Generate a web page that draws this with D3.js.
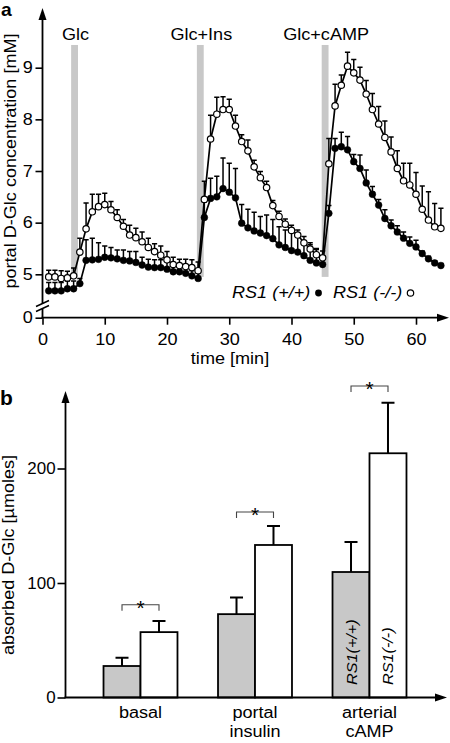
<!DOCTYPE html>
<html><head><meta charset="utf-8">
<script src="https://cdn.jsdelivr.net/npm/d3@7"></script>
<style>body{margin:0;background:#fff}svg{display:block}</style>
</head><body><svg id="c" width="450" height="743"></svg>
<script>
// ---------- data panel a ----------
const times = d3.range(1, 65);
const wtMean = [4.68,4.68,4.68,4.72,4.72,4.82,5.27,5.28,5.29,5.33,5.32,5.30,5.27,5.26,5.23,5.18,5.14,5.13,5.13,5.10,5.05,5.05,5.02,4.97,4.92,
  6.10,6.47,6.50,6.66,6.59,6.48,5.99,5.90,5.84,5.80,5.75,5.69,5.57,5.52,5.46,5.43,5.36,5.27,5.22,5.19,
  6.18,7.44,7.47,7.41,7.18,7.05,6.77,6.55,6.34,6.08,5.94,5.82,5.70,5.60,5.53,5.40,5.30,5.22,5.17];
const wtErr = [0.16,0.16,0.16,0.15,0.15,0.10,0.40,0.42,0.32,0.22,0.20,0.17,0.20,0.18,0.21,0.15,0.15,0.15,0.15,0.15,0.15,0.14,0.14,0.10,0.10,
  0.30,0.39,0.40,0.59,0.56,0.57,0.36,0.36,0.36,0.32,0.40,0.37,0.35,0.34,0.36,0.30,0.26,0.30,0.26,0.10,
  0.15,0.19,0.28,0.26,0.14,0.26,0.25,0.15,0.11,0.17,0.11,0.12,0.12,0.12,0.13,0.05,0.05,0.04,0.04];
const koMean = [4.95,4.95,4.92,4.93,4.97,5.43,5.88,6.21,6.31,6.35,6.25,6.10,5.93,5.76,5.71,5.63,5.52,5.44,5.37,5.28,5.19,5.17,5.15,5.13,5.07,
  6.45,7.62,8.10,8.19,8.19,7.87,7.57,7.39,7.08,6.87,6.68,6.33,6.12,5.97,5.85,5.76,5.61,5.49,5.38,5.32,
  7.14,8.26,8.66,9.03,8.90,8.76,8.49,8.19,7.91,7.65,7.37,7.05,6.81,6.73,6.55,6.26,6.05,5.92,5.89];
const koErr = [0.13,0.13,0.15,0.13,0.15,0.27,0.50,0.34,0.24,0.22,0.16,0.15,0.13,0.19,0.18,0.19,0.18,0.15,0.18,0.16,0.14,0.12,0.14,0.15,0.17,
  0.35,0.46,0.33,0.25,0.20,0.21,0.13,0.21,0.13,0.12,0.12,0.10,0.10,0.10,0.10,0.10,0.12,0.12,0.12,0.13,
  0.49,0.42,0.20,0.27,0.26,0.25,0.26,0.31,0.34,0.32,0.29,0.34,0.34,0.42,0.42,0.45,0.55,0.45,0.39];
const xTicks = [0,10,20,30,40,50,60];
const yTicks = [0,5,6,7,8,9];
const events = ["Glc","Glc+Ins","Glc+cAMP"];
const eventStart = [4.6,24.8,44.85];
const eventEnd = [5.7,25.9,45.95];
const legendLabels = ["RS1 (+/+)","RS1 (-/-)"];

// ---------- data panel b ----------
const categories = [["basal"],["portal","insulin"],["arterial","cAMP"]];
const groups = ["RS1(+/+)","RS1(-/-)"];
const absWt = [27.5,72.8,109.6];
const absWtErr = [7.2,14.5,26.2];
const absKo = [57.1,133.2,213.3];
const absKoErr = [9.8,16.5,44.2];
const sigLevel = [81,162,272];
const barTicks = [0,100,200];

// ---------- helpers ----------
const FONT = "'Liberation Sans', Arial, Helvetica, sans-serif";
const SX = 1.13;
const svg = d3.select("#c");
function txt(g, x, y, s, o = {}) {
  return g.append("text")
    .attr("transform", `translate(${x},${y})` + (o.rot ? ` rotate(${o.rot})` : "") + ` scale(${o.sx || SX},1)`)
    .attr("font-family", FONT).attr("font-size", o.size || 16)
    .attr("text-anchor", o.anchor || "start")
    .attr("font-style", o.style || "normal").attr("font-weight", o.weight || "normal")
    .attr("fill", "#000").text(s);
}
function arrowUp(g, x, y) {
  g.append("path").attr("d", `M${x},${y} L${x-4},${y+12} L${x+4},${y+12} Z`).attr("fill", "#000");
}
function arrowRight(g, x, y) {
  g.append("path").attr("d", `M${x},${y} L${x-12},${y-4} L${x-12},${y+4} Z`).attr("fill", "#000");
}

// ================= panel a =================
const gA = svg.append("g");
const xT = d3.scaleLinear().domain([0, 60]).range([42.5, 416]);
const yT = d3.scaleLinear().domain([0, 4.4, 9]).range([317.7, 305.3, 67.7]);

// stimulus bands
events.forEach((e, i) => {
  gA.append("rect").attr("x", xT(eventStart[i])).attr("width", xT(eventEnd[i]) - xT(eventStart[i]))
    .attr("y", yT(9.44)).attr("height", yT(4.95) - yT(9.44)).attr("fill", "#c8c8c8");
  txt(gA, (xT(eventStart[i]) + xT(eventEnd[i])) / 2 + 1, 39.5, e, { anchor: "middle" });
});

// axes
const gx = gA.append("g").attr("transform", `translate(0,${yT(0)})`)
  .call(d3.axisBottom(xT).tickValues(xTicks).tickSize(7).tickPadding(9));
gx.select(".domain").remove();
gx.selectAll("line").attr("stroke", "#000").attr("stroke-width", 1.6);
gx.selectAll("text").attr("font-size", 16).attr("font-family", FONT).attr("fill", "#000").attr("transform", `scale(${SX},1)`);

const gy = gA.append("g").attr("transform", `translate(${xT(0)},0)`)
  .call(d3.axisLeft(yT).tickValues(yTicks).tickSize(7).tickPadding(1.5).tickFormat(d3.format("d")));
gy.select(".domain").remove();
gy.selectAll("line").attr("stroke", "#000").attr("stroke-width", 1.6);
gy.selectAll("text").attr("font-size", 16).attr("font-family", FONT).attr("fill", "#000").attr("transform", `scale(${SX},1)`);

// axis lines with break
const ax0 = xT(0);
gA.append("line").attr("x1", ax0).attr("x2", ax0).attr("y1", 14).attr("y2", 303.5).attr("stroke", "#000").attr("stroke-width", 1.8);
gA.append("line").attr("x1", ax0).attr("x2", ax0).attr("y1", 309).attr("y2", yT(0)).attr("stroke", "#000").attr("stroke-width", 1.8);
gA.append("line").attr("x1", 36).attr("y1", 306.5).attr("x2", 49).attr("y2", 300.5).attr("stroke", "#000").attr("stroke-width", 1.5);
gA.append("line").attr("x1", 36).attr("y1", 311.5).attr("x2", 49).attr("y2", 305.5).attr("stroke", "#000").attr("stroke-width", 1.5);
arrowUp(gA, ax0, 8);
gA.append("line").attr("x1", ax0 - 1).attr("x2", 440).attr("y1", yT(0)).attr("y2", yT(0)).attr("stroke", "#000").attr("stroke-width", 1.8);
arrowRight(gA, 449, yT(0));

txt(gA, 230, 363.5, "time [min]", { anchor: "middle" });
txt(gA, 16, 161, "portal D-Glc concentration [mM]", { anchor: "middle", rot: -90 });
txt(gA, 1, 16, "a", { weight: "bold", size: 17.5, sx: 1.1 });

// series
const line = d3.line().x((d, i) => xT(times[i])).y(d => yT(d));
function drawSeries(mean, err, open) {
  const g = gA.append("g");
  g.append("path").datum(mean).attr("d", line).attr("fill", "none").attr("stroke", "#000").attr("stroke-width", 1.7);
  g.selectAll(".eb").data(mean).join("path")
    .attr("d", (d, i) => {
      const x = xT(times[i]), y0 = yT(d), y1 = yT(d + err[i]);
      return `M${x},${y0} V${y1} M${x - 2.6},${y1} H${x + 2.6}`;
    }).attr("stroke", "#000").attr("stroke-width", 1.5).attr("fill", "none");
  g.selectAll("circle").data(mean).join("circle")
    .attr("cx", (d, i) => xT(times[i])).attr("cy", d => yT(d))
    .attr("r", open ? 3.2 : 3.4)
    .attr("fill", open ? "#fff" : "#000").attr("stroke", "#000").attr("stroke-width", open ? 1.2 : 0.5);
}
drawSeries(wtMean, wtErr, false);
drawSeries(koMean, koErr, true);

// legend
txt(gA, 232, 298, legendLabels[0], { style: "italic" });
gA.append("circle").attr("cx", 318.5).attr("cy", 293).attr("r", 3.4).attr("fill", "#000");
txt(gA, 333, 298, legendLabels[1], { style: "italic" });
gA.append("circle").attr("cx", 410.5).attr("cy", 293).attr("r", 3.2).attr("fill", "#fff").attr("stroke", "#000").attr("stroke-width", 1.2);

// ================= panel b =================
const gB = svg.append("g");
const yB = d3.scaleLinear().domain([0, 200]).range([697.5, 468.5]);
const catKeys = categories.map(c => c.join(" "));
const xB = d3.scaleBand().domain(catKeys).range([83.25, 426.75]).paddingInner(0.354).paddingOuter(0.177);
const xS = d3.scaleBand().domain(groups).range([0, xB.bandwidth()]);

const barData = [];
catKeys.forEach((c, i) => {
  barData.push({ c, g: groups[0], v: absWt[i], e: absWtErr[i] });
  barData.push({ c, g: groups[1], v: absKo[i], e: absKoErr[i] });
});
barData.forEach(d => {
  const x = xB(d.c) + xS(d.g), w = xS.bandwidth(), cx = x + w / 2;
  gB.append("path").attr("d", `M${cx},${yB(d.v)} V${yB(d.v + d.e)} M${cx - 6.5},${yB(d.v + d.e)} H${cx + 6.5}`)
    .attr("stroke", "#000").attr("stroke-width", 2).attr("fill", "none");
  gB.append("rect").attr("x", x).attr("y", yB(d.v)).attr("width", w).attr("height", yB(0) - yB(d.v))
    .attr("fill", d.g === groups[0] ? "#c8c8c8" : "#fff").attr("stroke", "#000").attr("stroke-width", 1.8);
});

// significance brackets
catKeys.forEach((c, i) => {
  const x1 = xB(c) + xS(groups[0]) + xS.bandwidth() / 2;
  const x2 = xB(c) + xS(groups[1]) + xS.bandwidth() / 2;
  const y = yB(sigLevel[i]);
  gB.append("path").attr("d", `M${x1},${y + 6} V${y} H${x2} V${y + 6}`).attr("fill", "none")
    .attr("stroke", "#444").attr("stroke-width", 1.1);
  txt(gB, (x1 + x2) / 2, y + 10, "*", { anchor: "middle", size: 21, sx: 1.0 });
});

// axes b
const gyb = gB.append("g").attr("transform", `translate(65.5,0)`)
  .call(d3.axisLeft(yB).tickValues(barTicks).tickSize(8).tickPadding(1.3));
gyb.select(".domain").remove();
gyb.selectAll("line").attr("stroke", "#000").attr("stroke-width", 1.6);
gyb.selectAll("text").attr("font-size", 16).attr("font-family", FONT).attr("fill", "#000").attr("transform", `scale(1.06,1)`);
gB.append("line").attr("x1", 65.5).attr("x2", 65.5).attr("y1", 398).attr("y2", yB(0)).attr("stroke", "#000").attr("stroke-width", 1.8);
arrowUp(gB, 65.5, 391);
gB.append("line").attr("x1", 64.5).attr("x2", 438).attr("y1", yB(0)).attr("y2", yB(0)).attr("stroke", "#000").attr("stroke-width", 1.8);
arrowRight(gB, 447, yB(0));

categories.forEach((c, i) => {
  const cx = xB(catKeys[i]) + xB.bandwidth() / 2;
  c.forEach((s, j) => txt(gB, cx, 718 + j * 19, s, { anchor: "middle" }));
});

// labels inside arterial bars
const lastKey = catKeys[2];
groups.forEach(g => {
  const cx = xB(lastKey) + xS(g) + xS.bandwidth() / 2;
  txt(gB, cx + 5.5, 685, g, { rot: -90, style: "italic", size: 15, sx: 1.08 });
});

txt(gB, 14, 555, "absorbed D-Glc [\u00b5moles]", { anchor: "middle", rot: -90 });
txt(gB, 0, 405, "b", { weight: "bold", size: 20, sx: 1.05 });
</script>
</body></html>
